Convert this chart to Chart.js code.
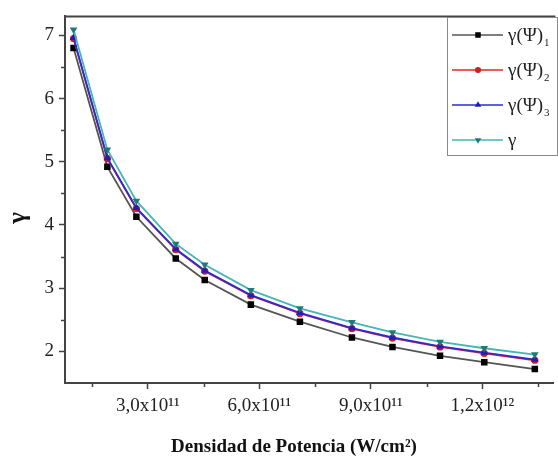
<!DOCTYPE html>
<html>
<head>
<meta charset="utf-8">
<script src="https://cdn.jsdelivr.net/npm/chart.js@4/dist/chart.umd.min.js"></script>
<style>
  html, body { margin: 0; padding: 0; background: #fff; }
  #wrap { width: 558px; height: 458px; }
</style>
</head>
<body>
<div id="wrap"><canvas id="c" width="558" height="458"></canvas></div>
<script>
// Power density (W/cm^2) at each computed point
const powerDensity = [1.00e11, 1.91e11, 2.69e11, 3.75e11, 4.53e11, 5.77e11, 7.09e11, 8.49e11, 9.58e11, 1.086e12, 1.205e12, 1.341e12];

// Keldysh-type parameter for each approach
const gammaPsi1 = [6.80, 4.92, 4.13, 3.47, 3.13, 2.74, 2.47, 2.22, 2.07, 1.93, 1.83, 1.72];
const gammaPsi2 = [6.95, 5.05, 4.26, 3.61, 3.27, 2.88, 2.60, 2.36, 2.21, 2.07, 1.97, 1.86];
const gammaPsi3 = [6.96, 5.06, 4.27, 3.62, 3.28, 2.89, 2.61, 2.37, 2.22, 2.08, 1.98, 1.87];
const gammaRef  = [7.09, 5.19, 4.38, 3.70, 3.37, 2.97, 2.68, 2.46, 2.30, 2.15, 2.05, 1.95];

// Legend names (base text + subscript)
const seriesNames = ['γ(Ψ)', 'γ(Ψ)', 'γ(Ψ)', 'γ'];
const seriesSubs  = ['1', '2', '3', ''];

// Axis ticks
const xTickValues = [3e11, 6e11, 9e11, 1.2e12];
const xTickLabels = ['3,0x10¹¹', '6,0x10¹¹', '9,0x10¹¹', '1,2x10¹²'];
const xMinorTicks = [1.5e11, 4.5e11, 7.5e11, 1.05e12, 1.35e12];
const yTickValues = [2, 3, 4, 5, 6, 7];
const yMinorTicks = [2.5, 3.5, 4.5, 5.5, 6.5];

const xTitle = 'Densidad de Potencia (W/cm²)';
const yTitle = 'γ';

const SERIF = '"Liberation Serif", "Times New Roman", serif';
const AXIS_COLOR = '#444';

function pts(ys) { return powerDensity.map((x, i) => ({ x: x, y: ys[i] })); }

const styles = [
  { line: '#555555', fill: '#000000', shape: 'rect',     radius: 4.6, rot: 0,   order: 4 },
  { line: '#e02626', fill: '#e01818', shape: 'circle',   radius: 3.6, rot: 0,   order: 3 },
  { line: '#2b2bd0', fill: '#1e1eb8', shape: 'triangle', radius: 4.4, rot: 0,   order: 2 },
  { line: '#45b5b5', fill: '#1f7a7a', shape: 'triangle', radius: 4.4, rot: 180, order: 1 }
];
const seriesValues = [gammaPsi1, gammaPsi2, gammaPsi3, gammaRef];

const datasets = seriesValues.map((vals, i) => ({
  label: seriesNames[i] + seriesSubs[i],
  data: pts(vals),
  borderColor: styles[i].line,
  borderWidth: 1.8,
  backgroundColor: styles[i].fill,
  pointBackgroundColor: styles[i].fill,
  pointBorderColor: styles[i].fill,
  pointBorderWidth: 0,
  pointStyle: styles[i].shape,
  pointRadius: styles[i].radius,
  pointRotation: styles[i].rot,
  tension: 0,
  order: styles[i].order
}));

// Frame, minor ticks, axis titles and the boxed legend
const decorations = {
  id: 'decorations',
  afterDraw(chart) {
    const ctx = chart.ctx;
    const area = chart.chartArea;
    const xs = chart.scales.x, ys = chart.scales.y;
    ctx.save();

    // top frame line
    ctx.strokeStyle = AXIS_COLOR;
    ctx.lineWidth = 2;
    ctx.beginPath();
    ctx.moveTo(area.left - 1, area.top);
    ctx.lineTo(area.right + 2, area.top);
    ctx.stroke();

    // minor ticks
    ctx.lineWidth = 1.5;
    ctx.beginPath();
    xMinorTicks.forEach(v => {
      const px = Math.round(xs.getPixelForValue(v)) + 0.5;
      ctx.moveTo(px, area.bottom);
      ctx.lineTo(px, area.bottom + 4);
    });
    yMinorTicks.forEach(v => {
      const py = Math.round(ys.getPixelForValue(v)) + 0.5;
      ctx.moveTo(area.left, py);
      ctx.lineTo(area.left - 4, py);
    });
    ctx.stroke();

    // axis titles
    ctx.fillStyle = '#111';
    ctx.font = 'bold 19px ' + SERIF;
    ctx.textAlign = 'center';
    ctx.textBaseline = 'alphabetic';
    ctx.fillText(xTitle, 294, 452);

    ctx.save();
    ctx.translate(25, 218);
    ctx.rotate(-Math.PI / 2);
    ctx.font = 'bold 25px ' + SERIF;
    ctx.fillText(yTitle, 0, 0);
    ctx.restore();

    // legend box
    const bx = 447.5, by = 17.5, bw = 110, bh = 138;
    ctx.strokeStyle = '#8a8a8a';
    ctx.lineWidth = 1;
    ctx.strokeRect(bx, by, bw, bh);
    const rows = [35, 70, 105, 140];
    chart.data.datasets.forEach((ds, i) => {
      const y = rows[i];
      ctx.strokeStyle = ds.borderColor;
      ctx.lineWidth = 1.6;
      ctx.beginPath();
      ctx.moveTo(452, y);
      ctx.lineTo(503, y);
      ctx.stroke();
      ctx.fillStyle = ds.pointBackgroundColor;
      ctx.strokeStyle = ds.pointBorderColor;
      Chart.helpers.drawPoint(ctx, {
        pointStyle: ds.pointStyle,
        radius: ds.pointRadius * 0.85,
        rotation: ds.pointRotation,
        borderWidth: 0
      }, 478, y);
      ctx.fillStyle = '#222';
      ctx.textAlign = 'left';
      ctx.textBaseline = 'alphabetic';
      ctx.font = '19px ' + SERIF;
      ctx.fillText(seriesNames[i], 508, y + 6);
      if (seriesSubs[i]) {
        const w = ctx.measureText(seriesNames[i]).width;
        ctx.font = '11px ' + SERIF;
        ctx.fillText(seriesSubs[i], 508 + w + 1, y + 11);
      }
    });
    ctx.restore();
  }
};

new Chart(document.getElementById('c'), {
  type: 'line',
  data: { datasets: datasets },
  options: {
    responsive: false,
    animation: false,
    devicePixelRatio: 1,
    layout: { padding: { top: 15, right: 1, left: 0, bottom: 0 } },
    plugins: { legend: { display: false }, tooltip: { enabled: false } },
    scales: {
      x: {
        type: 'linear',
        min: 0.77e11,
        max: 1.391e12,
        afterBuildTicks: s => { s.ticks = xTickValues.map(v => ({ value: v })); },
        afterFit: s => { s.height = 75; },
        ticks: {
          callback: (v, i) => xTickLabels[i],
          font: { family: SERIF, size: 19 },
          color: '#222',
          padding: 6,
          maxRotation: 0,
          autoSkip: false
        },
        grid: { drawOnChartArea: false, drawTicks: true, tickLength: 6, tickColor: AXIS_COLOR, tickWidth: 1.5 },
        border: { color: AXIS_COLOR, width: 2 },
        title: { display: false }
      },
      y: {
        type: 'linear',
        min: 1.5,
        max: 7.3,
        afterBuildTicks: s => { s.ticks = yTickValues.map(v => ({ value: v })); },
        afterFit: s => { s.width = 65; },
        ticks: {
          callback: v => String(v),
          font: { family: SERIF, size: 19 },
          color: '#222',
          padding: 5
        },
        grid: { drawOnChartArea: false, drawTicks: true, tickLength: 6, tickColor: AXIS_COLOR, tickWidth: 1.5 },
        border: { color: AXIS_COLOR, width: 2 },
        title: { display: false }
      }
    }
  },
  plugins: [decorations]
});
</script>
</body>
</html>
